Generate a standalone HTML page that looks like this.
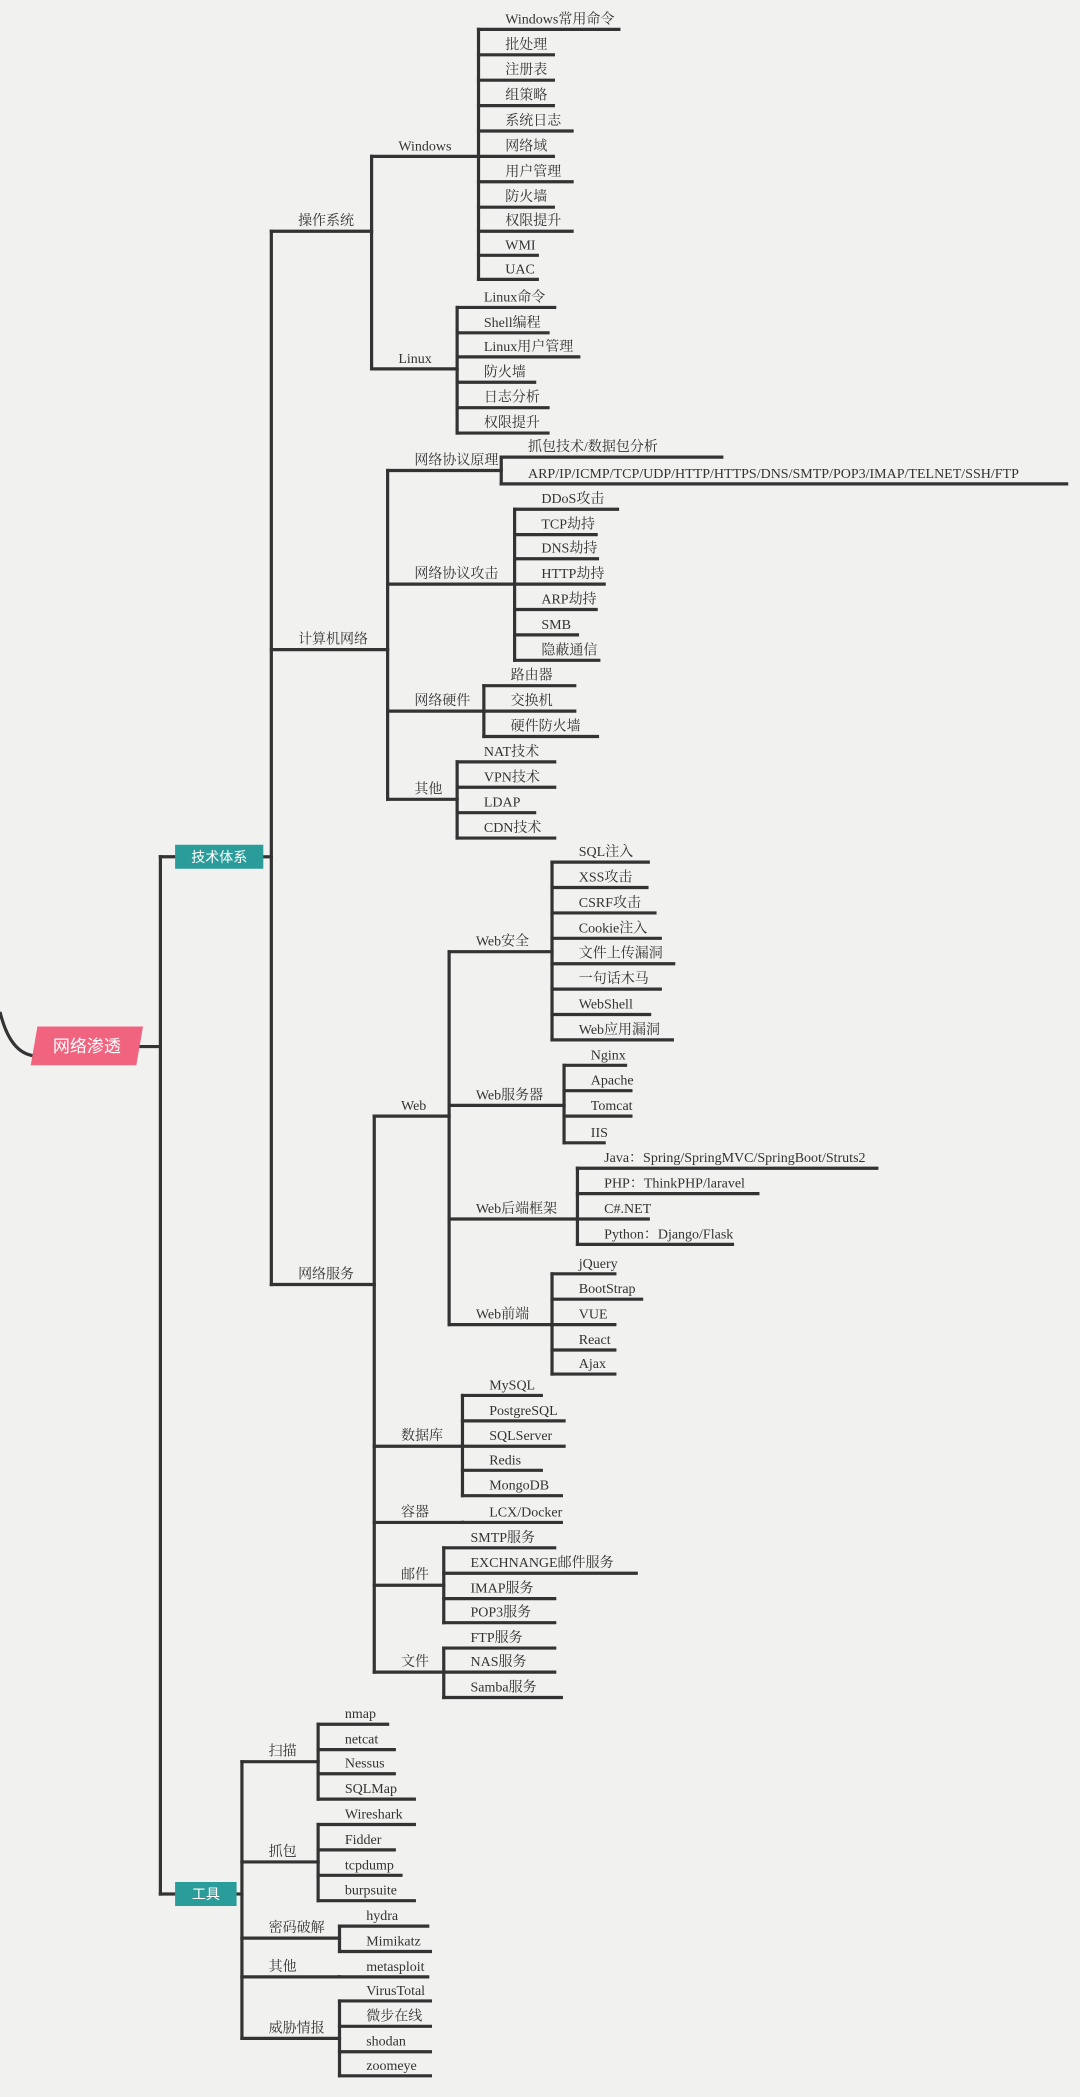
<!DOCTYPE html>
<html><head><meta charset="utf-8"><title>网络渗透</title>
<style>
html,body{margin:0;padding:0;background:#f1f1ef;}
svg{display:block;}
text{font-family:"Liberation Serif","Noto Serif CJK SC",serif;fill:#333;}
</style></head>
<body>
<svg id="map" width="1080" height="2097" viewBox="0 0 1080 2097" xmlns="http://www.w3.org/2000/svg">
<rect width="1080" height="2097" fill="#f1f1ef"/>
</svg>
<script>
const S = 1080/808;
function N(label, y, x1, kids){ return {label:label, y:y, x1:x1, kids:kids||[]}; }
function K(x, list){ list.conn = x; return list; }

const osWindows = K(358,[N("Windows常用命令",22,463),N("批处理",41,414),N("注册表",60,414),N("组策略",79,414),N("系统日志",98,428),N("网络域",117,414),N("用户管理",136,428),N("防火墙",155,414),N("权限提升",173,428),N("WMI",191,402),N("UAC",209,402)]);
const osLinux = K(342,[N("Linux命令",230,415),N("Shell编程",249,410),N("Linux用户管理",267,433),N("防火墙",286,400),N("日志分析",305,410),N("权限提升",324,410)]);
const netPrinciple = K(375,[N("抓包技术/数据包分析",342,540),N("ARP/IP/ICMP/TCP/UDP/HTTP/HTTPS/DNS/SMTP/POP3/IMAP/TELNET/SSH/FTP",362,798)]);
const netAttack = K(385,[N("DDoS攻击",381,462),N("TCP劫持",400,446),N("DNS劫持",418,447),N("HTTP劫持",437,452),N("ARP劫持",456,446),N("SMB",475,432),N("隐蔽通信",494,448)]);
const netHw = K(362,[N("路由器",513,430),N("交换机",532,430),N("硬件防火墙",551,447)]);
const netOther = K(342,[N("NAT技术",570,415),N("VPN技术",589,415),N("LDAP",608,400),N("CDN技术",627,415)]);
const webSec = K(413,[N("SQL注入",645,485),N("XSS攻击",664,484),N("CSRF攻击",683,490),N("Cookie注入",702,494),N("文件上传漏洞",721,504),N("一句话木马",740,494),N("WebShell",759,486),N("Web应用漏洞",778,503)]);
const webSrv = K(422,[N("Nginx",797,468),N("Apache",816,472),N("Tomcat",835,472),N("IIS",855,452)]);
const webBack = K(432,[N("Java：Spring/SpringMVC/SpringBoot/Struts2",874,656),N("PHP：ThinkPHP/laravel",893,567),N("C#.NET",912,485),N("Python：Django/Flask",931,548)]);
const webFront = K(413,[N("jQuery",953,460),N("BootStrap",972,480),N("VUE",991,460),N("React",1010,460),N("Ajax",1028,460)]);
const db = K(346,[N("MySQL",1044,405),N("PostgreSQL",1063,422),N("SQLServer",1082,422),N("Redis",1100,405),N("MongoDB",1119,420)]);
const mail = K(332,[N("SMTP服务",1158,415),N("EXCHNANGE邮件服务",1177,476),N("IMAP服务",1196,415),N("POP3服务",1214,415)]);
const files = K(332,[N("FTP服务",1233,415),N("NAS服务",1251,415),N("Samba服务",1270,420)]);
const scan = K(238,[N("nmap",1290,290),N("netcat",1309,295),N("Nessus",1327,295),N("SQLMap",1346,310)]);
const sniff = K(238,[N("Wireshark",1365,310),N("Fidder",1384,295),N("tcpdump",1403,300),N("burpsuite",1422,310)]);
const crack = K(254,[N("hydra",1441,320),N("Mimikatz",1460,322)]);
const intel = K(254,[N("VirusTotal",1497,322),N("微步在线",1516,322),N("shodan",1535,322),N("zoomeye",1553,322)]);

const techTree = K(203,[
  N("操作系统",173,0,K(278,[N("Windows",117,0,osWindows),N("Linux",276,0,osLinux)])),
  N("计算机网络",486,0,K(290,[N("网络协议原理",352,0,netPrinciple),N("网络协议攻击",437,0,netAttack),N("网络硬件",532,0,netHw),N("其他",598,0,netOther)])),
  N("网络服务",961,0,K(280,[
    N("Web",835,0,K(336,[N("Web安全",712,0,webSec),N("Web服务器",827,0,webSrv),N("Web后端框架",912,0,webBack),N("Web前端",991,0,webFront)])),
    N("数据库",1082,0,db),
    N("容器",1139,0,K(346,[N("LCX/Docker",1139,420)])),
    N("邮件",1186,0,mail),
    N("文件",1251,0,files)]))
]);
const toolTree = K(181,[N("扫描",1318,0,scan),N("抓包",1393,0,sniff),N("密码破解",1450,0,crack),N("其他",1479,0,K(254,[N("metasploit",1479,320)])),N("威胁情报",1525,0,intel)]);

const svg = document.getElementById('map');
const NS = "http://www.w3.org/2000/svg";
const LW = 3.2;
function line(x1,y1,x2,y2,name){
  const l = document.createElementNS(NS,'line');
  l.setAttribute('x1',x1*S);l.setAttribute('y1',y1*S);l.setAttribute('x2',x2*S);l.setAttribute('y2',y2*S);
  l.setAttribute('stroke','#333');l.setAttribute('stroke-width',LW);l.setAttribute('stroke-linecap','square');
  
  
  svg.appendChild(l);
}
function label(txt,x,y){
  const t = document.createElementNS(NS,'text');
  t.setAttribute('x',x*S);t.setAttribute('y',(y-4.5)*S);t.setAttribute('font-size',14);
  t.textContent = txt;
  
  
  svg.appendChild(t);
}
function draw(list){
  const x0 = list.conn;
  const ys = list.map(n=>n.y);
  line(x0,Math.min(...ys),x0,Math.max(...ys),'branch-connector');
  list.forEach(n=>{
    const end = n.kids.length ? n.kids.conn : n.x1;
    line(x0,n.y,end,n.y,'branch-line');
    label(n.label, x0+20, n.y);
    if(n.kids.length) draw(n.kids);
  });
}
const rootX = 120;
line(105,783,rootX,783,'root-line');
line(rootX,641,rootX,1417,'root-connector');
line(rootX,641,131,641,'tech-link');
line(197,641,203,641,'tech-out');
line(rootX,1417,131,1417,'tool-link');
line(177,1417,181,1417,'tool-out');
draw(techTree);
draw(toolTree);

function box(x1,y1,x2,y2,fill,txt,name,skew){
  const g = document.createElementNS(NS,'g');
  
  
  const p = document.createElementNS(NS,'polygon');
  const k = skew||0;
  p.setAttribute('points',[[x1+k,y1],[x2,y1],[x2-k,y2],[x1,y2]].map(a=>a[0]*S+','+a[1]*S).join(' '));
  p.setAttribute('fill',fill);
  g.appendChild(p);
  const t = document.createElementNS(NS,'text');
  t.setAttribute('x',(x1+x2)/2*S);t.setAttribute('y',((y1+y2)/2)*S+ (skew?6:5));
  t.setAttribute('text-anchor','middle');t.setAttribute('font-size',skew?17:14);
  t.setAttribute('style','fill:#fff;font-family:"Liberation Sans","Noto Sans CJK SC",sans-serif;');
  t.textContent = txt;
  g.appendChild(t);
  svg.appendChild(g);
}
const c = document.createElementNS(NS,'path');
c.setAttribute('d',`M0 ${757*S} Q ${8*S} ${790*S} ${28*S} ${790*S}`);
c.setAttribute('stroke','#333');c.setAttribute('stroke-width',LW);c.setAttribute('fill','none');


svg.appendChild(c);
box(23,768,107,797,'#f06480','网络渗透','root-node',5);
box(131,632,197,650,'#2a9d9a','技术体系','tech-system-node',0);
box(131,1408,177,1426,'#2a9d9a','工具','tools-node',0);
</script>
</body></html>
